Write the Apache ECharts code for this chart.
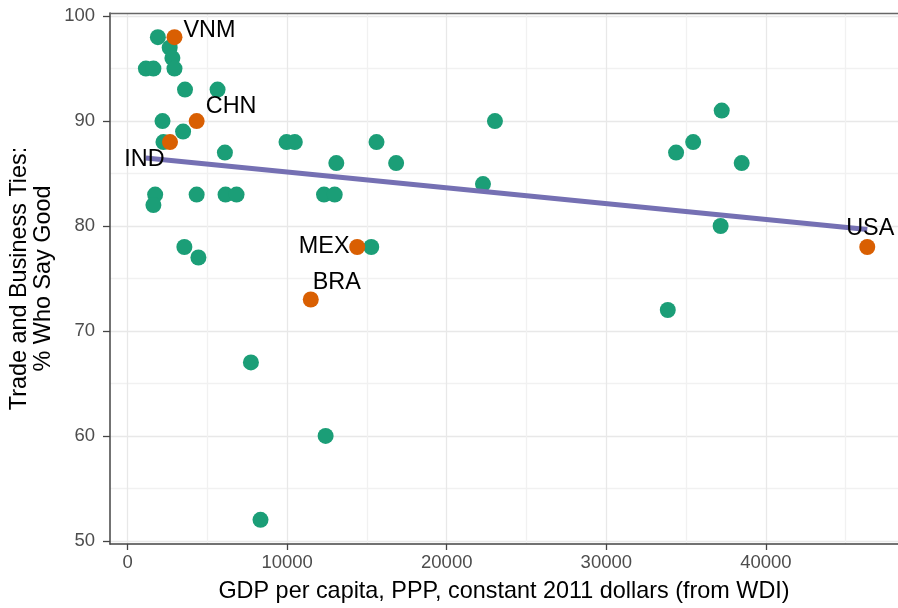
<!DOCTYPE html>
<html><head><meta charset="utf-8">
<script src="https://cdn.jsdelivr.net/npm/echarts@6/dist/echarts.min.js"></script>
<style>html,body{margin:0;padding:0;background:#fff}#c{width:898px;height:608px}</style>
</head><body><div id="c"></div>
<script>
// ---- data ----
const otherGdp  = [1150, 1620, 1900, 2640, 2810, 2940, 3600, 5640, 2190, 3480, 2250, 6100, 9960, 10480, 13080, 15600, 16830,
                   1730, 1620, 4330, 6140, 6830, 12310, 12980, 3560, 4440, 15270, 7730, 12410, 8330,
                   23020, 22270, 37230, 35440, 34370, 38480, 37160, 33850];
const otherGood = [95, 95, 98, 97, 96, 95, 93, 93, 90, 89, 88, 87, 88, 88, 86, 88, 86,
                   83, 82, 83, 83, 83, 83, 83, 78, 77, 78, 67, 60, 52,
                   90, 84, 91, 88, 87, 86, 80, 72];
const hiNames = ['VNM', 'CHN', 'IND', 'MEX', 'BRA', 'USA'];
const hiGdp   = [2940, 4330, 2660, 14390, 11480, 46350];
const hiGood  = [98, 90, 88, 78, 73, 78];
const fitGdp  = [1150, 46350];
const fitGood = [86.48, 79.67];
const xTickLabels = [0, 10000, 20000, 30000, 40000];
const xGridVals   = [0, 5000, 10000, 15000, 20000, 25000, 30000, 35000, 40000, 45000];
const yTickLabels = [50, 60, 70, 80, 90, 100];
const yGridVals   = [50, 55, 60, 65, 70, 75, 80, 85, 90, 95, 100];

// ---- styling (not data) ----
const labelOffset = {VNM: [35, -7], CHN: [34.5, -15], IND: [-25.5, 17], MEX: [-33, 0], BRA: [26, -17], USA: [3, -18]};
const FONT = 'Liberation Sans, Arial, Helvetica, sans-serif';
const X_MIN = -1100, X_MAX = 48275, Y_MIN = 49.7, Y_MAX = 100.3;

const chart = echarts.init(document.getElementById('c'), null, {renderer: 'canvas'});
const gridLine = {show: true, lineStyle: {color: ['#e8e8e8', '#f1f1f1'], width: 1.3}};
chart.setOption({
  animation: false,
  backgroundColor: '#ffffff',
  textStyle: {fontFamily: FONT},
  grid: {left: 108, right: 0, top: 13, bottom: 63, show: false, containLabel: false},
  xAxis: [
    {type: 'value', min: X_MIN, max: X_MAX, position: 'bottom',
     axisLine: {show: true, onZero: false, lineStyle: {color: '#444444', width: 1.5}},
     axisTick: {show: false, customValues: xGridVals},
     axisLabel: {show: false},
     splitLine: gridLine,
     name: 'GDP per capita, PPP, constant 2011 dollars (from WDI)',
     nameLocation: 'middle', nameGap: 36,
     nameTextStyle: {fontFamily: FONT, fontSize: 23.4, color: '#000000'}},
    {type: 'value', min: X_MIN, max: X_MAX, position: 'bottom',
     axisLine: {show: false, onZero: false},
     axisTick: {show: true, customValues: xTickLabels, length: 6, lineStyle: {color: '#444444', width: 1.3}},
     axisLabel: {show: true, customValues: xTickLabels, margin: 9, fontFamily: FONT, fontSize: 18.5, color: '#4d4d4d',
                 formatter: v => String(v)},
     splitLine: {show: false}},
    {type: 'value', min: X_MIN, max: X_MAX, position: 'top',
     axisLine: {show: true, onZero: false, lineStyle: {color: '#666666', width: 1.3}},
     axisTick: {show: false}, axisLabel: {show: false}, splitLine: {show: false}}
  ],
  yAxis: [
    {type: 'value', min: Y_MIN, max: Y_MAX, position: 'left',
     axisLine: {show: true, onZero: false, lineStyle: {color: '#444444', width: 1.5}},
     axisTick: {show: false, customValues: yGridVals},
     axisLabel: {show: false},
     splitLine: gridLine,
     name: 'Trade and Business Ties:\n% Who Say Good',
     nameLocation: 'middle', nameGap: 54, nameRotate: 90,
     nameTextStyle: {fontFamily: FONT, fontSize: 23.4, lineHeight: 24, color: '#000000', align: 'center'}},
    {type: 'value', min: Y_MIN, max: Y_MAX, position: 'left',
     axisLine: {show: false, onZero: false},
     axisTick: {show: true, customValues: yTickLabels, length: 7, lineStyle: {color: '#444444', width: 1.3}},
     axisLabel: {show: true, customValues: yTickLabels, margin: 15, fontFamily: FONT, fontSize: 18.5, color: '#4d4d4d',
                 formatter: v => String(v)},
     splitLine: {show: false}}
  ],
  series: [
    {type: 'scatter', xAxisIndex: 0, yAxisIndex: 0, z: 2, symbolSize: 16,
     itemStyle: {color: '#1b9e77', opacity: 1},
     data: otherGdp.map((g, i) => [g, otherGood[i]])},
    {type: 'line', xAxisIndex: 0, yAxisIndex: 0, z: 3, symbol: 'none', silent: true,
     lineStyle: {color: '#7570b3', width: 5},
     data: fitGdp.map((g, i) => [g, fitGood[i]])},
    {type: 'scatter', xAxisIndex: 0, yAxisIndex: 0, z: 4, symbolSize: 16,
     itemStyle: {color: '#d95f02', opacity: 1},
     label: {show: true, position: 'inside', formatter: '{b}', color: '#000000', fontFamily: FONT, fontSize: 23.4},
     data: hiNames.map((n, i) => ({name: n, value: [hiGdp[i], hiGood[i]], label: {offset: labelOffset[n]}}))}
  ]
});
</script></body></html>
